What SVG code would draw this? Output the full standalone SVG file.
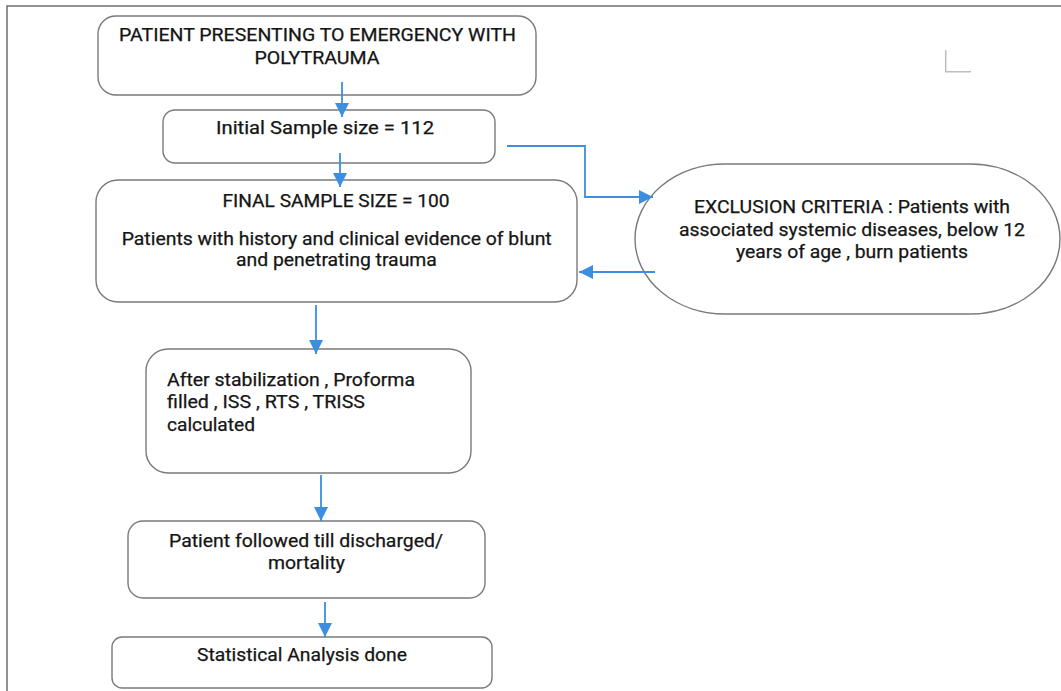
<svg xmlns="http://www.w3.org/2000/svg" width="1061" height="691" viewBox="0 0 1061 691">
<style>
.box{fill:#fff;stroke:#7a7a7a;stroke-width:1.4}
.t{font-family:Roboto,"Liberation Sans",sans-serif;font-size:17.5px;fill:#151515;stroke:#151515;stroke-width:0.25}
.c{text-anchor:middle}
.con{fill:none;stroke:#3b8ee0;stroke-width:1.8}
</style>
<defs>
<marker id="ah" markerUnits="userSpaceOnUse" markerWidth="15" markerHeight="15" refX="14" refY="7" orient="auto">
<path d="M0,0 L14,7 L0,14 z" fill="#3b8ee0"/>
</marker>
</defs>
<rect x="0" y="0" width="1061" height="691" fill="#fff"/>
<path d="M7,691 V6 H1061" fill="none" stroke="#6e6e6e" stroke-width="1.5"/>
<path d="M945.7,50 V71.7 H971" fill="none" stroke="#bdbdbd" stroke-width="1.5"/>

<g id="n1">
<rect class="box" x="98" y="16" width="438" height="79" rx="18"/>
<text class="t c" x="317.5" y="41" textLength="397" lengthAdjust="spacingAndGlyphs">PATIENT PRESENTING TO EMERGENCY WITH</text>
<text class="t c" x="317" y="64" textLength="125" lengthAdjust="spacingAndGlyphs">POLYTRAUMA</text>
</g>
<g id="n2">
<rect class="box" x="163" y="110" width="332" height="53" rx="12"/>
<text class="t c" x="325" y="134" textLength="218" lengthAdjust="spacingAndGlyphs">Initial Sample size = 112</text>
</g>
<g id="n3">
<rect class="box" x="96" y="180" width="481" height="122" rx="22"/>
<text class="t c" x="336" y="207" textLength="227" lengthAdjust="spacingAndGlyphs">FINAL SAMPLE SIZE = 100</text>
<text class="t c" x="336.7" y="245" textLength="430" lengthAdjust="spacingAndGlyphs">Patients with history and clinical evidence of blunt</text>
<text class="t c" x="336.4" y="266" textLength="201" lengthAdjust="spacingAndGlyphs">and penetrating trauma</text>
</g>
<g id="n4">
<rect class="box" x="635" y="164" width="425" height="150" rx="90" ry="75"/>
<text class="t c" x="852" y="213" textLength="316" lengthAdjust="spacingAndGlyphs">EXCLUSION CRITERIA : Patients with</text>
<text class="t c" x="852" y="236" textLength="346" lengthAdjust="spacingAndGlyphs">associated systemic diseases, below 12</text>
<text class="t c" x="852" y="258" textLength="232" lengthAdjust="spacingAndGlyphs">years of age , burn patients</text>
</g>
<g id="n5">
<rect class="box" x="146" y="349" width="325" height="124" rx="22"/>
<text class="t" x="167" y="386" textLength="248" lengthAdjust="spacingAndGlyphs">After stabilization , Proforma</text>
<text class="t" x="167" y="408" textLength="198" lengthAdjust="spacingAndGlyphs">filled , ISS , RTS , TRISS</text>
<text class="t" x="167" y="431" textLength="88" lengthAdjust="spacingAndGlyphs">calculated</text>
</g>
<g id="n6">
<rect class="box" x="128" y="521" width="357" height="77" rx="15"/>
<text class="t c" x="306" y="547" textLength="274" lengthAdjust="spacingAndGlyphs">Patient followed till discharged/</text>
<text class="t c" x="306.5" y="569" textLength="77" lengthAdjust="spacingAndGlyphs">mortality</text>
</g>
<g id="n7">
<rect class="box" x="112" y="637" width="380" height="51" rx="10"/>
<text class="t c" x="302" y="661" textLength="210" lengthAdjust="spacingAndGlyphs">Statistical Analysis done</text>
</g>

<g id="connectors">
<path class="con" d="M342,82 V117" marker-end="url(#ah)"/>
<path class="con" d="M340,153 V187" marker-end="url(#ah)"/>
<path class="con" d="M507,146 H585 V197 H653" marker-end="url(#ah)"/>
<path class="con" d="M655,272 H579" marker-end="url(#ah)"/>
<path class="con" d="M316,305 V354" marker-end="url(#ah)"/>
<path class="con" d="M321,475 V521" marker-end="url(#ah)"/>
<path class="con" d="M325,602 V637" marker-end="url(#ah)"/>
</g>
</svg>
